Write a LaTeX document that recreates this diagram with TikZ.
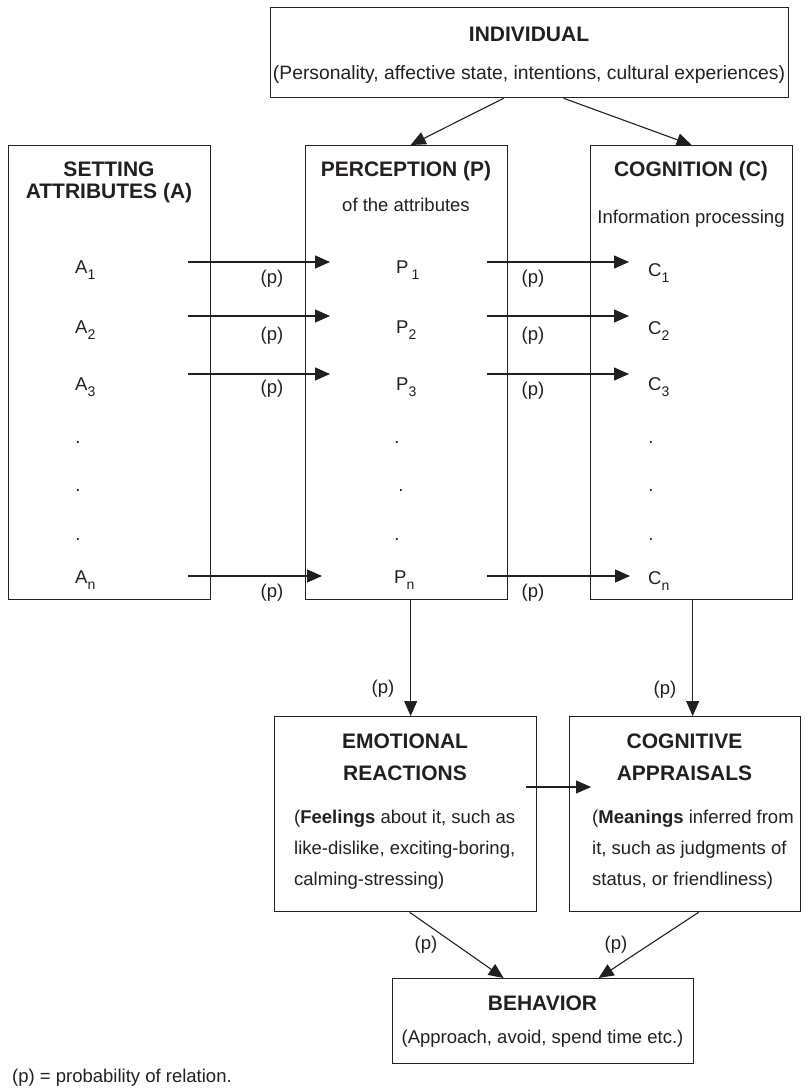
\documentclass[tikz,border=0pt]{standalone}
\usepackage{fontspec}
\setmainfont{Liberation Sans}
\usetikzlibrary{arrows.meta}
\definecolor{ink}{HTML}{231F20}
\newcommand{\subsc}[1]{\raisebox{-6pt}{\fontsize{14}{14}\selectfont #1}}
\begin{document}
\begin{tikzpicture}[x=1pt,y=-1pt,
  box/.style={draw=ink, line width=1.3pt, inner sep=0pt, anchor=north west},
  arr/.style={draw=ink, line width=1.1pt, -{Triangle[length=15pt,width=13pt]}},
  lbl/.style={inner sep=0pt, anchor=base, text=ink, font=\fontsize{18.5}{20}\selectfont},
  lblw/.style={lbl, anchor=base west},
  ttl/.style={inner sep=0pt, anchor=base, text=ink, font=\fontsize{21}{22}\selectfont\bfseries},
  dotlbl/.style={lbl}
]
\useasboundingbox (0,0) rectangle (808,1088);

% boxes
\node[box, minimum width=518pt, minimum height=90pt] (ind) at (270,7) {};
\node[box, minimum width=202pt, minimum height=454pt] (set) at (8,145) {};
\node[box, minimum width=202pt, minimum height=454pt] (perc) at (305,145) {};
\node[box, minimum width=202pt, minimum height=454pt] (cog) at (590,145) {};
\node[box, minimum width=262pt, minimum height=195pt] (emo) at (274,716) {};
\node[box, minimum width=231pt, minimum height=195pt] (app) at (569,716) {};
\node[box, minimum width=301pt, minimum height=85pt] (beh) at (392,978) {};

% individual
\node[ttl] (indt) at (529,41.5) {INDIVIDUAL};
\node[lbl, font=\fontsize{19.3}{20}\selectfont] (inds) at (529,79.5) {(Personality, affective state, intentions, cultural experiences)};

% column titles
\node[ttl] (sett1) at (109,176) {SETTING};
\node[ttl] (sett2) at (109,198) {ATTRIBUTES (A)};
\node[ttl] (perct) at (406,176) {PERCEPTION (P)};
\node[lbl] (percs) at (406,211) {of the attributes};
\node[ttl] (cogt) at (691,176) {COGNITION (C)};
\node[lbl] (cogs) at (691,223) {Information processing};

% row labels
\node[lblw] (a1) at (75,273) {A\subsc{1}};
\node[lblw] (a2) at (75,333) {A\subsc{2}};
\node[lblw] (a3) at (75,390) {A\subsc{3}};
\node[lblw] (an) at (75,583) {A\subsc{n}};
\node[lblw] (p1) at (396,273) {P\,\subsc{1}};
\node[lblw] (p2) at (396,333) {P\subsc{2}};
\node[lblw] (p3) at (396,390) {P\subsc{3}};
\node[lblw] (pn) at (394,583) {P\subsc{n}};
\node[lblw] (c1) at (648,276) {C\subsc{1}};
\node[lblw] (c2) at (648,334) {C\subsc{2}};
\node[lblw] (c3) at (648,390) {C\subsc{3}};
\node[lblw] (cn) at (648,584) {C\subsc{n}};

% dots
\node[dotlbl] (ad1) at (78,443) {.};
\node[dotlbl] (ad2) at (78,491) {.};
\node[dotlbl] (ad3) at (78,540) {.};
\node[dotlbl] (pd1) at (397,443) {.};
\node[dotlbl] (pd2) at (401,491) {.};
\node[dotlbl] (pd3) at (397,540) {.};
\node[dotlbl] (cd1) at (651,443) {.};
\node[dotlbl] (cd2) at (651,491) {.};
\node[dotlbl] (cd3) at (651,540) {.};

% horizontal arrow end points
\coordinate (as1) at (188,262); \coordinate (ae1) at (330,262);
\coordinate (as2) at (188,316); \coordinate (ae2) at (330,316);
\coordinate (as3) at (188,374); \coordinate (ae3) at (330,374);
\coordinate (asn) at (188,576); \coordinate (aen) at (322,576);
\coordinate (ps1) at (487,262); \coordinate (pe1) at (629,262);
\coordinate (ps2) at (487,316); \coordinate (pe2) at (629,316);
\coordinate (ps3) at (487,374); \coordinate (pe3) at (629,374);
\coordinate (psn) at (487,576); \coordinate (pen) at (630,576);
\foreach \r in {1,2,3,n}{
  \draw[arr] (as\r) -- (ae\r);
  \draw[arr] (ps\r) -- (pe\r);
}

% (p) labels on horizontal arrows
\node[lbl] (pa1) at (272,283) {(p)};
\node[lbl] (pa2) at (272,340) {(p)};
\node[lbl] (pa3) at (272,393) {(p)};
\node[lbl] (pan) at (272,597) {(p)};
\node[lbl] (pb1) at (533,283) {(p)};
\node[lbl] (pb2) at (533,340) {(p)};
\node[lbl] (pb3) at (533,395) {(p)};
\node[lbl] (pbn) at (533,597) {(p)};

% individual arrows
\draw[arr] ([xshift=-26pt]ind.south) -- ([xshift=4pt]perc.north);
\draw[arr] ([xshift=34pt]ind.south) -- (cog.north);

% vertical arrows
\draw[arr] ([xshift=4pt]perc.south) -- ([xshift=4pt]perc.south |- emo.north);
\draw[arr] ([xshift=1pt]cog.south) -- ([xshift=1pt]cog.south |- app.north);
\node[lbl] (pv1) at (383,693) {(p)};
\node[lbl] (pv2) at (665,694) {(p)};

% emotional reactions
\node[ttl] (emot1) at (405,748) {EMOTIONAL};
\node[ttl] (emot2) at (405,780) {REACTIONS};
\node[lblw] (emob1) at (294,823) {(\textbf{Feelings} about it, such as};
\node[lblw] (emob2) at (294,854) {like-dislike, exciting-boring,};
\node[lblw] (emob3) at (294,885) {calming-stressing)};

% cognitive appraisals
\node[ttl] (appt1) at (684.5,748) {COGNITIVE};
\node[ttl] (appt2) at (684.5,780) {APPRAISALS};
\node[lblw] (appb1) at (592,823) {(\textbf{Meanings} inferred from};
\node[lblw] (appb2) at (592,854) {it, such as judgments of};
\node[lblw] (appb3) at (592,885) {status, or friendliness)};

% emotional -> cognitive
\coordinate (eas) at (526,787);
\coordinate (eae) at (591,787);
\draw[arr] (eas) -- (eae);

% to behavior
\draw[arr] ([xshift=4pt]emo.south) -- ([xshift=-39.5pt]beh.north);
\draw[arr] ([xshift=13.5pt]app.south) -- ([xshift=55.5pt]beh.north);
\node[lbl] (pw1) at (426,949) {(p)};
\node[lbl] (pw2) at (616,949) {(p)};

% behavior
\node[ttl] (beht) at (542.5,1010.5) {BEHAVIOR};
\node[lbl] (behs) at (542.5,1043.5) {(Approach, avoid, spend time etc.)};

% footnote
\node[lblw] (foot) at (12,1082) {(p) = probability of relation.};
\end{tikzpicture}
\end{document}
